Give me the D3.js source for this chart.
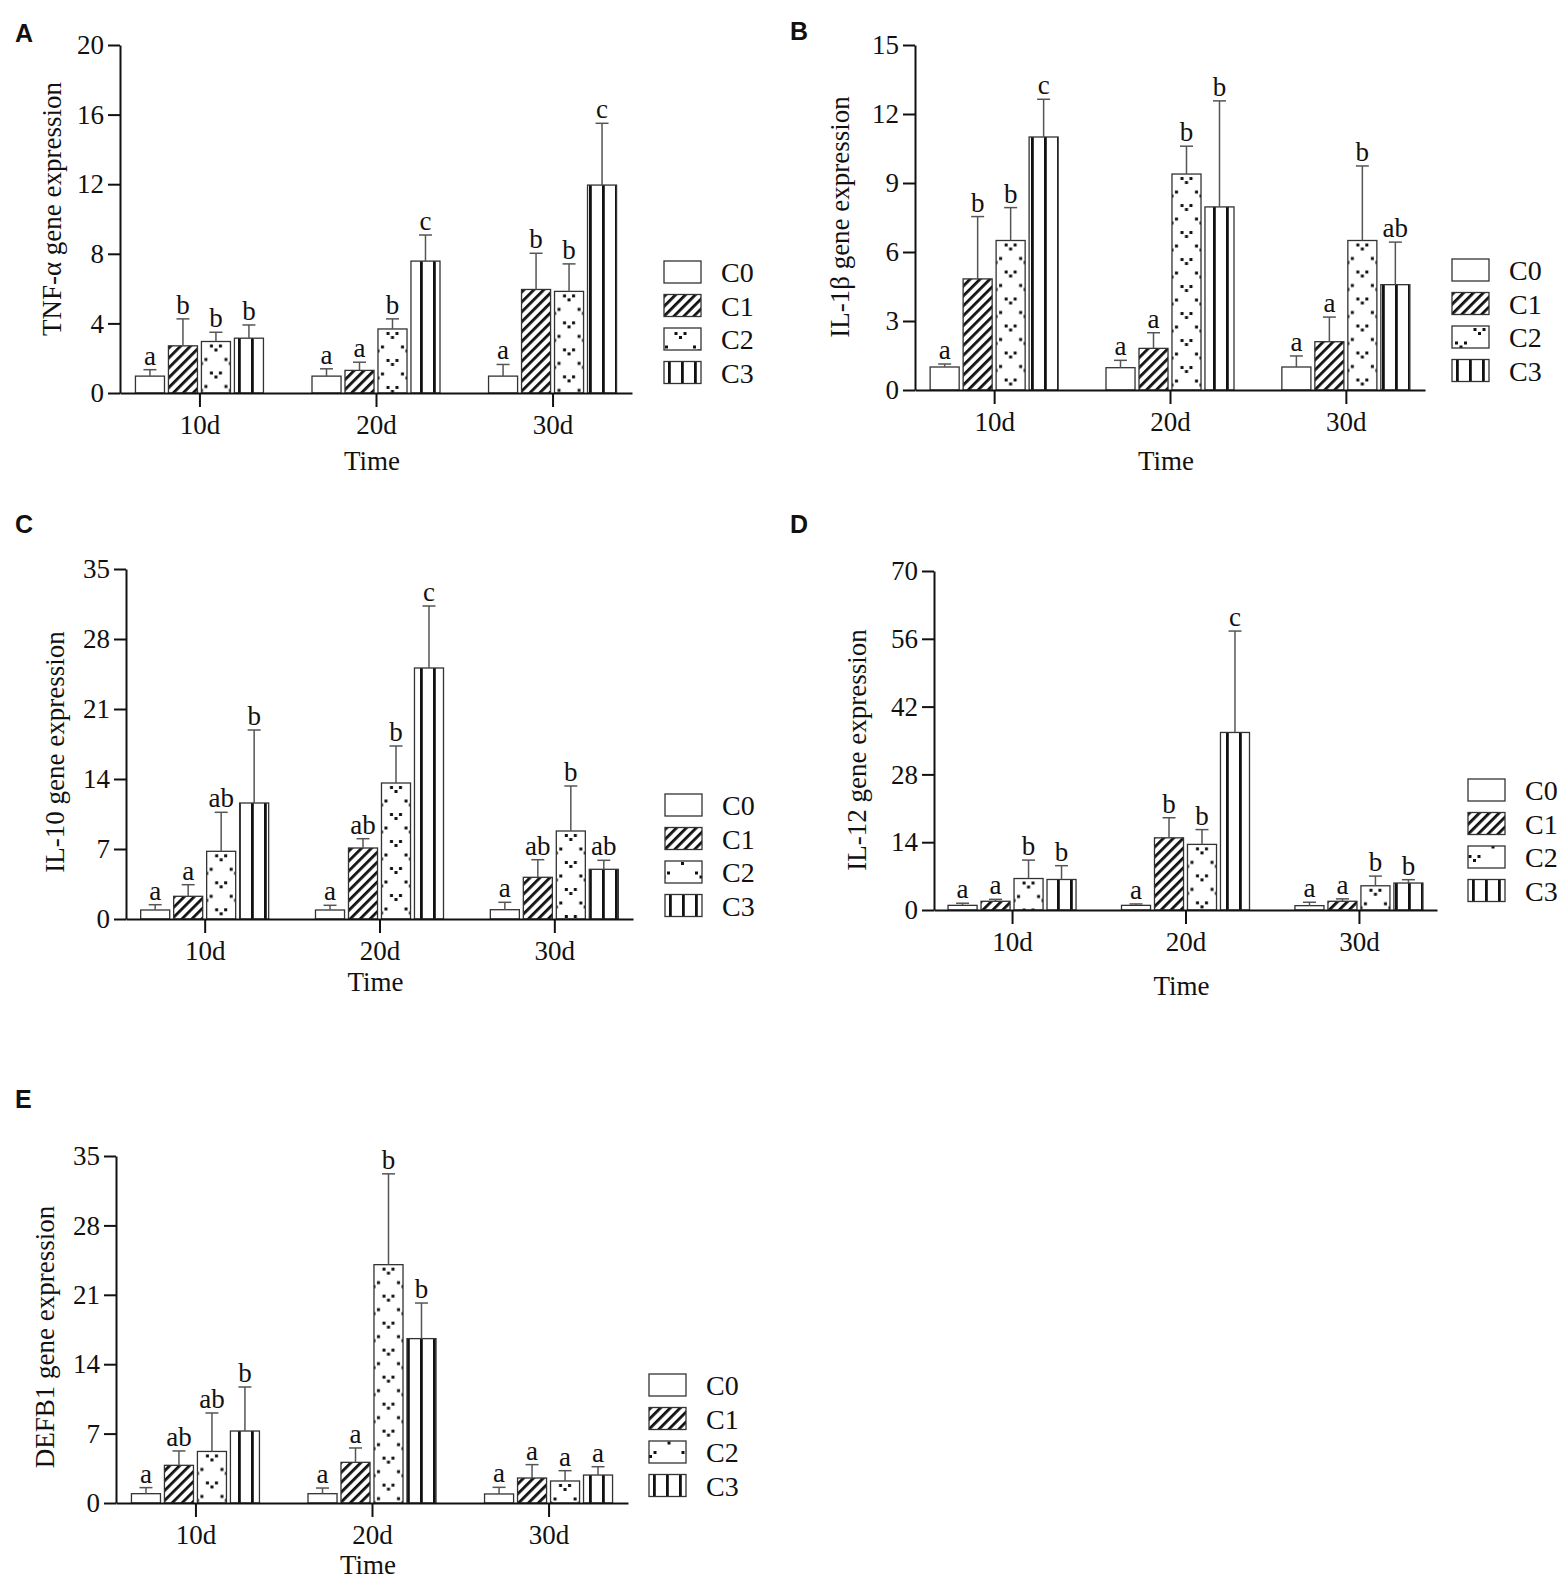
<!DOCTYPE html>
<html>
<head>
<meta charset="utf-8">
<script src="https://cdn.jsdelivr.net/npm/d3@7"></script>
<style>
  body { margin: 0; background: #fff; }
  text { font-family: "Liberation Serif", "Times New Roman", serif; fill: #111; }
  .plab { font-family: "Liberation Sans", Arial, sans-serif; font-weight: bold; }
</style>
</head>
<body>
<script>
const groups = ["C0", "C1", "C2", "C3"]
const times = ["10d", "20d", "30d"]

// means / sd per time point (rows) and group (cols)
const tnfMean = [[0.97, 2.71, 2.96, 3.15], [0.97, 1.3, 3.68, 7.58], [0.97, 5.95, 5.84, 11.95]]
const tnfSd = [[0.37, 1.55, 0.53, 0.76], [0.42, 0.47, 0.58, 1.5], [0.67, 2.08, 1.58, 3.55]]
const tnfSig = [["a", "b", "b", "b"], ["a", "a", "b", "c"], ["a", "b", "b", "c"]]
const tnfTicks = [0, 4, 8, 12, 16, 20]

const il1bMean = [[1.0, 4.83, 6.5, 11.0], [0.97, 1.81, 9.39, 7.96], [1.0, 2.1, 6.5, 4.58]]
const il1bSd = [[0.13, 2.71, 1.43, 1.64], [0.32, 0.68, 1.21, 4.61], [0.48, 1.07, 3.24, 1.85]]
const il1bSig = [["a", "b", "b", "c"], ["a", "a", "b", "b"], ["a", "a", "b", "ab"]]
const il1bTicks = [0, 3, 6, 9, 12, 15]

const il10Mean = [[0.9, 2.27, 6.77, 11.6], [0.9, 7.1, 13.6, 25.1], [0.93, 4.17, 8.8, 4.97]]
const il10Sd = [[0.53, 1.16, 3.9, 7.3], [0.47, 0.93, 3.7, 6.2], [0.74, 1.76, 4.5, 0.9]]
const il10Sig = [["a", "a", "ab", "b"], ["a", "ab", "b", "c"], ["a", "ab", "b", "ab"]]
const il10Ticks = [0, 7, 14, 21, 28, 35]

const il12Mean = [[0.96, 1.8, 6.5, 6.3], [0.96, 14.9, 13.55, 36.66], [0.9, 1.8, 5.0, 5.57]]
const il12Sd = [[0.44, 0.4, 3.8, 2.85], [0.29, 4.15, 3.05, 20.94], [0.7, 0.5, 2.0, 0.69]]
const il12Sig = [["a", "a", "b", "b"], ["a", "b", "b", "c"], ["a", "a", "b", "b"]]
const il12Ticks = [0, 14, 28, 42, 56, 70]

const defbMean = [[0.94, 3.8, 5.2, 7.26], [0.94, 4.1, 24.04, 16.58], [0.91, 2.52, 2.22, 2.82]]
const defbSd = [[0.61, 1.45, 3.88, 4.44], [0.57, 1.45, 9.16, 3.59], [0.67, 1.35, 1.04, 0.84]]
const defbSig = [["a", "ab", "ab", "b"], ["a", "a", "b", "b"], ["a", "a", "a", "a"]]
const defbTicks = [0, 7, 14, 21, 28, 35]

// layout of each panel
const panels = [
  { id: "A", title: "TNF-α gene expression", mean: tnfMean, sd: tnfSd, sig: tnfSig, ticks: tnfTicks,
    x0: 120, x1: 632, top: 45, zero: 393, legX: 664, legY: 261, ylabX: 52, ylabY: 209, tickDy: 41, timeDy: 77, lx: 15, ly: 42 },
  { id: "B", title: "IL-1β gene expression", mean: il1bMean, sd: il1bSd, sig: il1bSig, ticks: il1bTicks,
    x0: 915, x1: 1425, top: 45, zero: 390, legX: 1452, legY: 259, ylabX: 840, ylabY: 217, tickDy: 41, timeDy: 80, lx: 790, ly: 40 },
  { id: "C", title: "IL-10 gene expression", mean: il10Mean, sd: il10Sd, sig: il10Sig, ticks: il10Ticks,
    x0: 126, x1: 633, top: 569, zero: 919, legX: 665, legY: 794, ylabX: 55, ylabY: 752, tickDy: 41, timeDy: 72, lx: 15, ly: 533 },
  { id: "D", title: "IL-12 gene expression", mean: il12Mean, sd: il12Sd, sig: il12Sig, ticks: il12Ticks,
    x0: 934, x1: 1437, top: 571, zero: 910, legX: 1468, legY: 779, ylabX: 857, ylabY: 750, tickDy: 41, timeDy: 85, lx: 790, ly: 533 },
  { id: "E", title: "DEFB1 gene expression", mean: defbMean, sd: defbSd, sig: defbSig, ticks: defbTicks,
    x0: 116, x1: 628, top: 1156, zero: 1503, legX: 649, legY: 1374, ylabX: 45, ylabY: 1337, tickDy: 41, timeDy: 71, lx: 15, ly: 1108 }
]

const svg = d3.select("body").append("svg").attr("width", 1562).attr("height", 1583)
const defs = svg.append("defs")

// diagonal hatch for C1
defs.append("pattern")
  .attr("id", "hatch")
  .attr("patternUnits", "userSpaceOnUse")
  .attr("width", 7).attr("height", 7)
  .attr("patternTransform", "rotate(45)")
  .append("rect").attr("width", 2.8).attr("height", 7).attr("fill", "#111")

// vertical lines for C3
defs.append("pattern")
  .attr("id", "vlines")
  .attr("patternUnits", "userSpaceOnUse")
  .attr("width", 13).attr("height", 10)
  .append("rect").attr("x", 4).attr("width", 2.8).attr("height", 10).attr("fill", "#111")

// small "v" dot marks for C2, one pattern per box so the marks sit centred
let dotCount = 0
const dotPattern = (bx, by, bw) => {
  const id = "dots" + dotCount++
  const p = defs.append("pattern")
    .attr("id", id)
    .attr("patternUnits", "userSpaceOnUse")
    .attr("x", bx).attr("y", by)
    .attr("width", bw).attr("height", 27)
  const vMark = (cx, cy) => {
    [[-4.5, -2.5], [4.5, -2.5], [0, 1.5]].forEach(([dx, dy]) => {
      p.append("rect")
        .attr("x", cx + dx - 1.5).attr("y", cy + dy - 1.5)
        .attr("width", 3).attr("height", 3)
        .attr("fill", "#111")
    })
  }
  vMark(bw / 2, 7)
  vMark(0, 20.5)
  vMark(bw, 20.5)
  return `url(#${id})`
}

const plainFill = (c) => (c === "C0" ? "#fff" : c === "C1" ? "url(#hatch)" : "url(#vlines)")

const drawPanel = (p) => {
  const x = d3.scalePoint().domain(times).range([p.x0, p.x1]).padding(0.45)
  const xs = d3.scaleBand().domain(groups).range([-64, 64]).paddingInner(0.12)
  const y = d3.scaleLinear().domain([0, d3.max(p.ticks)]).range([p.zero, p.top])
  const bw = xs.bandwidth()

  const rows = times.flatMap((t, ti) =>
    groups.map((c, ci) => ({ t, c, m: p.mean[ti][ci], s: p.sd[ti][ci], sig: p.sig[ti][ci] }))
  )

  const g = svg.append("g")

  // bars
  g.selectAll(".bar")
    .data(rows)
    .join("rect")
    .attr("class", "bar")
    .attr("x", (d) => x(d.t) + xs(d.c))
    .attr("y", (d) => y(d.m))
    .attr("width", bw)
    .attr("height", (d) => y(0) - y(d.m))
    .attr("fill", (d) => (d.c === "C2" ? dotPattern(x(d.t) + xs(d.c), y(d.m), bw) : plainFill(d.c)))
    .attr("stroke", "#333")
    .attr("stroke-width", 1.3)

  // upper error bars
  const eb = g.selectAll(".err").data(rows).join("g").attr("class", "err")
    .attr("stroke", "#555").attr("stroke-width", 1.5)
  eb.append("line")
    .attr("x1", (d) => x(d.t) + xs(d.c) + bw / 2)
    .attr("x2", (d) => x(d.t) + xs(d.c) + bw / 2)
    .attr("y1", (d) => y(d.m))
    .attr("y2", (d) => y(d.m + d.s))
  eb.append("line")
    .attr("x1", (d) => x(d.t) + xs(d.c) + bw / 2 - 6.5)
    .attr("x2", (d) => x(d.t) + xs(d.c) + bw / 2 + 6.5)
    .attr("y1", (d) => y(d.m + d.s))
    .attr("y2", (d) => y(d.m + d.s))

  // significance letters
  g.selectAll(".sig")
    .data(rows)
    .join("text")
    .attr("class", "sig")
    .attr("x", (d) => x(d.t) + xs(d.c) + bw / 2)
    .attr("y", (d) => y(d.m + d.s) - 5)
    .attr("text-anchor", "middle")
    .attr("font-size", 27)
    .text((d) => d.sig)

  // axes
  const ya = g.append("g")
    .attr("transform", `translate(${p.x0},0)`)
    .call(d3.axisLeft(y).tickValues(p.ticks).tickSize(12).tickSizeOuter(0).tickPadding(4))
  const xa = g.append("g")
    .attr("transform", `translate(0,${p.zero})`)
    .call(d3.axisBottom(x).tickSize(14).tickSizeOuter(0).tickPadding(p.tickDy - 33))
  ;[ya, xa].forEach((a) => {
    a.select(".domain").attr("stroke", "#111").attr("stroke-width", 2)
    a.selectAll(".tick line").attr("stroke", "#111").attr("stroke-width", 2)
    a.selectAll(".tick text")
      .attr("font-family", "Liberation Serif, Times New Roman, serif")
      .attr("font-size", 27)
      .attr("fill", "#111")
  })

  // axis titles
  g.append("text")
    .attr("transform", `translate(${p.ylabX},${p.ylabY}) rotate(-90)`)
    .attr("text-anchor", "middle")
    .attr("dy", "0.35em")
    .attr("font-size", 27)
    .text(p.title)
  g.append("text")
    .attr("x", (p.x0 + p.x1) / 2 - 4)
    .attr("y", p.zero + p.timeDy)
    .attr("text-anchor", "middle")
    .attr("font-size", 27)
    .text("Time")

  // legend
  const lg = g.selectAll(".leg")
    .data(groups)
    .join("g")
    .attr("class", "leg")
    .attr("transform", (d, i) => `translate(${p.legX},${p.legY + i * 33.5})`)
  lg.append("rect")
    .attr("width", 37).attr("height", 22)
    .attr("fill", (d, i) => (d === "C2" ? dotPattern(p.legX, p.legY + i * 33.5 - 3, 37) : plainFill(d)))
    .attr("stroke", "#333").attr("stroke-width", 1.3)
  lg.append("text")
    .attr("x", 57).attr("y", 21)
    .attr("font-size", 28)
    .text((d) => d)

  // panel letter
  svg.append("text")
    .attr("class", "plab")
    .attr("x", p.lx).attr("y", p.ly)
    .attr("font-size", 25)
    .text(p.id)
}

panels.forEach(drawPanel)
</script>
</body>
</html>
